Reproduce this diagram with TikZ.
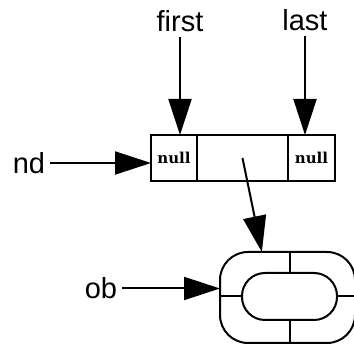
\documentclass[tikz,border=0pt]{standalone}
\usepackage{fontspec}
\setmainfont{Liberation Sans}
\newfontfamily\cellfont{DejaVu Serif}
\usetikzlibrary{arrows.meta,positioning,calc}
\tikzset{%
    cell/.style={%
        rectangle, draw, line width=2pt, outer sep=0pt, inner sep=0pt, minimum height=46pt,
        font=\cellfont\bfseries\fontsize{15}{18}\selectfont
    },
    lbl/.style={%
        font=\fontsize{29}{32}\selectfont, inner sep=5pt
    },
    ptr/.style={%
        -{Triangle[length=36pt,width=23pt]}, line width=2pt
    },
    ring/.style={%
        rectangle, draw, line width=2pt, outer sep=0pt, inner sep=0pt
    },
}
\begin{document}
\begin{tikzpicture}[x=1pt,y=1pt]
      \useasboundingbox (0,0) rectangle (354,345);

      % the list head: two pointers and a data cell
      \node[cell, minimum width=46pt] (head) at (174,187) {null};
      \node[cell, minimum width=91pt, right=0pt of head] (data) {};
      \node[cell, minimum width=47pt, right=0pt of data] (tail) {null};

      \node[lbl] (first) at (180,323.5) {first};
      \node[lbl] (last) at (305,325) {last};
      \node[lbl] (nd) at (29,182) {nd};
      \draw [ptr] (first) -- (first |- head.north);
      \draw [ptr] (last) -- (last |- tail.north);
      \draw [ptr] (nd) -- (nd -| head.west);

      % the object ring
      \node[ring, rounded corners=28pt, minimum width=135pt, minimum height=91pt] (obj) at (287.5,47.5) {};
      \node[ring, rounded corners=23pt, minimum width=95pt, minimum height=47pt] (hole) at (289.5,48.5) {};
      \draw [line width=2pt] (hole.north) -- (hole.north |- obj.north);
      \draw [line width=2pt] (hole.south) -- (hole.south |- obj.south);
      \draw [line width=2pt] (hole.west) -- (hole.west -| obj.west);
      \draw [line width=2pt] (hole.east) -- (hole.east -| obj.east);

      \node[lbl] (ob) at (101,56.5) {ob};
      \draw [ptr] (ob) -- (ob -| obj.west);
      \coordinate (objin) at ($(obj.north west)!0.31!(obj.north east)$);
      \draw [ptr] (data.center) -- (objin);
    \end{tikzpicture}
\end{document}
